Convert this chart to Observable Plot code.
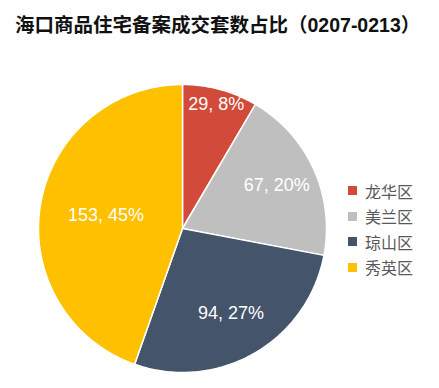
<!DOCTYPE html>
<html><head><meta charset="utf-8">
<script src="https://cdn.jsdelivr.net/npm/d3@7"></script>
<script src="https://cdn.jsdelivr.net/npm/@observablehq/plot@0.6"></script>
<style>
body{margin:0;background:#fff;width:439px;height:388px;position:relative;overflow:hidden;font-family:"Liberation Sans",Arial,"Noto Sans CJK SC",sans-serif}
#title{position:absolute;left:15px;top:9px;font-size:19.5px;font-weight:bold;color:#111;white-space:nowrap;font-family:"Liberation Sans",Arial,"Noto Sans CJK SC",sans-serif}
#chart{position:absolute;left:0;top:44px}
#legend{position:absolute;left:348px;top:178px}
.row{display:flex;align-items:center;height:25.5px;font-size:16px;color:#595959;font-family:"Noto Sans CJK SC",sans-serif}
.sw{width:9px;height:9px;margin-right:8px}
</style></head><body>
<div id="title"></div><div id="chart"></div><div id="legend"></div>
<script>
const titleText = "海口商品住宅备案成交套数占比（0207-0213）";
const categories = ["龙华区", "美兰区", "琼山区", "秀英区"];
const counts = [29, 67, 94, 153];
const colors = ["#D24A3A", "#BFBFBF", "#44546A", "#FFC000"];

document.getElementById("title").textContent = titleText;

const W = 439, H = 344;
const R = 144, cx = 182, cy = 184;
const total = d3.sum(counts);
const arcs = d3.pie().sort(null).value(d => d)(counts);

// slice outlines
const pts = [];
arcs.forEach((a, i) => {
  const n = Math.max(8, Math.ceil((a.endAngle - a.startAngle) * 60));
  pts.push({cat: categories[i], x: 0, y: 0});
  for (let k = 0; k <= n; k++) {
    const t = a.startAngle + (a.endAngle - a.startAngle) * k / n;
    pts.push({cat: categories[i], x: Math.sin(t), y: Math.cos(t)});
  }
});

// labels: near the slice centroid, pushed outward until the text fits in the slice
const ctx = document.createElement("canvas").getContext("2d");
ctx.font = '18px "Liberation Sans", Arial';
const labels = arcs.map((a, i) => {
  const pct = Math.round(counts[i] / total * 100);
  const text = `${counts[i]}, ${pct}%`;
  const w = ctx.measureText(text).width, h = 22, m = 4;
  const th = a.endAngle - a.startAngle;
  const am = (a.startAngle + a.endAngle) / 2;
  const s = Math.sin(am), c = Math.cos(am);
  const u0 = [Math.sin(a.startAngle), Math.cos(a.startAngle)];
  const u1 = [Math.sin(a.endAngle), Math.cos(a.endAngle)];
  let d = 1.15 * (2 / 3) * R * Math.sin(th / 2) / (th / 2);
  if (th < Math.PI) {
    for (; d < R; d += 0.5) {
      const px = d * s, py = d * c;
      const corners = [[px - w/2, py - h/2], [px + w/2, py - h/2], [px - w/2, py + h/2], [px + w/2, py + h/2]];
      const ok = corners.every(([x, y]) => (u0[1]*x - u0[0]*y) >= m && (u1[0]*y - u1[1]*x) >= m);
      if (ok) break;
    }
  }
  return {text, x: d * s / R, y: d * c / R};
});

const plot = Plot.plot({
  width: W, height: H,
  marginLeft: cx - R, marginRight: W - cx - R,
  marginTop: cy - R, marginBottom: H - cy - R,
  x: {domain: [-1, 1], axis: null},
  y: {domain: [-1, 1], axis: null},
  color: {domain: categories, range: colors},
  style: {background: "#fff"},
  marks: [
    Plot.line(pts, {x: "x", y: "y", z: "cat", fill: "cat", stroke: "#fff", strokeWidth: 1.5, curve: "linear-closed", strokeLinejoin: "round"}),
    Plot.text(labels, {x: "x", y: "y", text: "text", fill: "#fff", fontSize: 18, fontFamily: '"Liberation Sans", Arial, sans-serif'})
  ]
});
document.getElementById("chart").appendChild(plot);

const legend = document.getElementById("legend");
categories.forEach((c, i) => {
  const row = document.createElement("div");
  row.className = "row";
  const sw = document.createElement("div");
  sw.className = "sw";
  sw.style.background = colors[i];
  const t = document.createElement("span");
  t.textContent = c;
  row.appendChild(sw); row.appendChild(t);
  legend.appendChild(row);
});
</script>
</body></html>
